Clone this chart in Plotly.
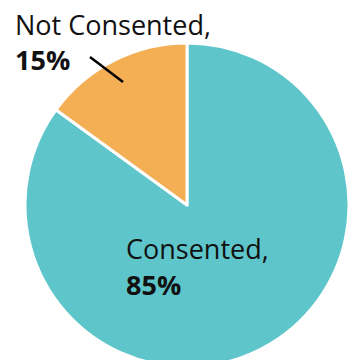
import plotly.graph_objects as go

# Consent status breakdown
categories = ["Consented", "Not Consented"]
shares = [85, 15]
colors = ["#5EC6CA", "#F4AF55"]

W, H = 350, 380
fig = go.Figure(
    go.Pie(
        labels=categories,
        values=shares,
        sort=False,
        direction="clockwise",
        rotation=0,
        marker=dict(colors=colors, line=dict(color="white", width=3)),
        textinfo="none",
        hoverinfo="label+percent",
        domain=dict(x=[25 / W, 349 / W], y=[(H - 367) / H, (H - 43) / H]),
        showlegend=False,
    )
)

FONT = "Open Sans, sans-serif"


def px_x(v):
    return v / W


def px_y(v):
    return (H - v) / H


def label(text, x, y, bold=False):
    fig.add_annotation(
        x=px_x(x), y=px_y(y), xref="paper", yref="paper",
        xanchor="left", yanchor="middle", showarrow=False,
        text=f"<b>{text}</b>" if bold else text,
        font=dict(family=FONT, size=27, color="#111111"),
    )


# outside label for the small slice, with a leader line
label(f"{categories[1]},", 13, 25)
label(f"{shares[1]}%", 13, 59, bold=True)
fig.add_shape(
    type="line", xref="paper", yref="paper",
    x0=px_x(90), y0=px_y(57), x1=px_x(123), y1=px_y(82),
    line=dict(color="black", width=2.5),
)

# inside label for the large slice
label(f"{categories[0]},", 124, 248)
label(f"{shares[0]}%", 124, 284, bold=True)

fig.update_layout(
    width=W, height=H,
    margin=dict(l=0, r=0, t=0, b=0),
    paper_bgcolor="white", plot_bgcolor="white",
)

fig.write_html("out.html")
